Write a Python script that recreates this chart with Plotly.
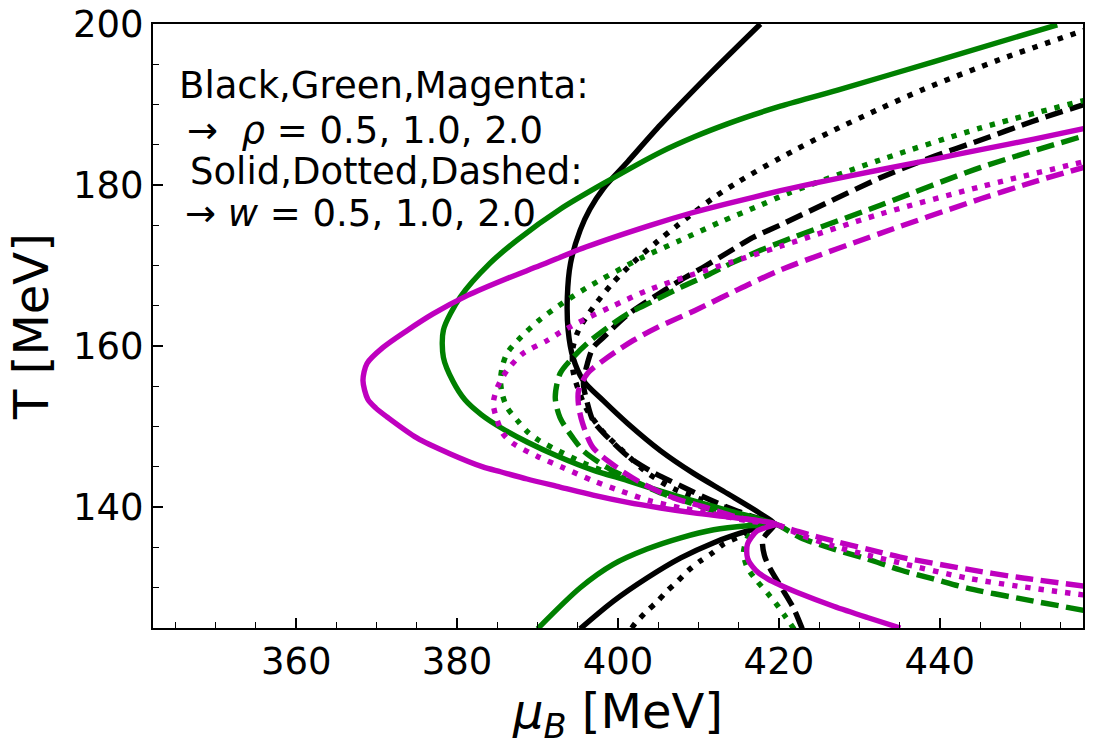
import plotly.graph_objects as go

# black: rho = 0.5 ; solid / dotted / dashed: w = 0.5 / 1.0 / 2.0
k_solid_mu = [395.3, 399.4, 403.6, 407.8, 411.9, 416.1, 419.4, 417.7, 413.6, 409.4, 405.3, 401.2, 398.2,
              395.7, 394.4, 393.8, 393.7, 394.1, 395.3, 396.5, 398.2, 401.2, 405.3, 411.5, 417.7]
k_solid_T = [124.9, 128.3, 131.2, 133.7, 135.6, 137.05, 137.9, 139.2, 141.7, 144.2, 147.0, 150.4, 153.2,
             155.7, 158.6, 162.0, 166.1, 170.3, 174.4, 177.0, 179.6, 182.9, 187.5, 193.9, 200.0]

k_dot_mu = [401.7, 402.15, 403.6, 404.9, 406.1, 407.4, 408.7, 410.2, 411.7, 413.1, 415.2, 416.8, 419.4,
            416.8, 413.6, 410.2, 406.9, 403.6, 400.7, 398.2, 396.2, 395.1, 394.4, 394.4, 395.1, 396.9,
            399.4, 401.9, 404.9, 407.4, 411.85, 414.95, 420.2, 426.4, 432.6, 438.0, 447.5, 457.9]
k_dot_T = [125.0, 125.6, 127.1, 128.3, 129.6, 130.8, 132.1, 133.3, 134.3, 135.4, 136.4, 137.3, 137.9,
           138.7, 139.9, 141.0, 142.3, 144.3, 146.9, 149.3, 152.0, 154.5, 157.0, 159.8, 162.0, 164.8,
           167.9, 170.4, 173.0, 175.0, 178.4, 180.4, 183.4, 186.6, 189.5, 191.9, 195.6, 199.2]

k_dash_mu = [422.9, 421.8, 420.2, 418.9, 418.2, 418.0, 419.4, 416.8, 413.6, 410.6, 407.8, 404.4, 401.5,
             398.7, 396.9, 396.2, 395.7, 396.2, 396.9, 398.2, 401.2, 404.4, 407.8, 410.6, 413.6, 416.8,
             420.4, 426.4, 432.6, 438.8, 445.1, 451.5, 457.9]
k_dash_T = [124.9, 127.5, 130.2, 132.4, 134.0, 136.0, 137.9, 138.8, 140.0, 141.3, 142.65, 144.3, 146.1,
            148.7, 150.75, 152.9, 155.4, 157.85, 159.8, 161.1, 163.9, 166.06, 168.2, 169.8, 171.6, 173.5,
            175.15, 178.0, 180.9, 183.4, 185.6, 187.9, 190.0]

# green: rho = 1.0
g_solid_mu = [390.0, 395.3, 399.4, 403.6, 407.8, 411.9, 416.1, 419.4, 417.7, 413.6, 409.4, 405.3, 401.2,
              396.9, 392.8, 388.7, 385.4, 383.0, 381.0, 379.5, 378.3, 378.3, 380.4, 384.1, 387.5, 392.8,
              398.2, 405.3, 409.5, 413.6, 416.9, 420.2, 427.3, 439.2, 454.6]
g_solid_T = [124.9, 130.0, 132.9, 134.8, 136.2, 137.2, 137.7, 137.9, 138.5, 139.6, 140.8, 142.0, 143.3,
             144.6, 146.2, 148.1, 149.9, 151.5, 153.3, 155.6, 158.6, 162.0, 166.1, 170.3, 173.2, 177.0,
             180.2, 184.1, 186.0, 187.6, 188.75, 189.8, 191.8, 195.3, 199.9]

g_dot_mu = [421.9, 420.6, 419.6, 418.6, 417.3, 416.1, 415.6, 416.1, 417.3, 419.4, 417.7, 414.3, 410.2,
            406.1, 402.8, 399.0, 395.7, 392.8, 390.0, 388.7, 387.5, 386.2, 385.6, 385.4, 385.6, 386.2,
            387.9, 390.3, 393.2, 396.2, 402.8, 407.8, 412.7, 417.7, 421.2, 432.6, 445.1, 457.9]
g_dot_T = [124.85, 126.7, 128.1, 129.3, 130.8, 132.45, 134.3, 136.2, 137.4, 137.9, 138.3, 139.2, 140.4,
           141.66, 142.9, 144.2, 145.5, 146.9, 148.4, 149.4, 150.75, 152.4, 154.1, 155.7, 157.35, 159.1,
           161.1, 163.3, 165.4, 167.3, 170.9, 173.16, 175.4, 177.5, 179.0, 183.13, 187.1, 190.5]

g_dash_mu = [457.9, 449.7, 443.4, 439.2, 435.1, 431.0, 426.8, 422.7, 419.6, 416.8, 413.1, 409.4, 405.6,
             401.9, 398.7, 395.7, 394.4, 392.8, 392.2, 392.8, 394.4, 396.6, 399.4, 401.2, 404.4, 407.8,
             411.1, 414.3, 417.7, 421.5, 432.6, 445.1, 457.9]
g_dash_T = [127.2, 128.7, 129.95, 131.1, 132.2, 133.56, 134.8, 136.2, 137.9, 138.3, 139.2, 140.4, 141.66,
            143.3, 144.9, 147.0, 148.6, 151.1, 153.6, 156.6, 158.6, 160.7, 162.8, 164.0, 165.6, 167.3,
            168.8, 170.4, 171.9, 173.4, 177.5, 182.2, 186.1]

# magenta: rho = 2.0
m_solid_mu = [457.9, 451.7, 445.1, 439.2, 432.6, 425.2, 420.2, 413.6, 409.0, 404.0, 396.0, 390.3, 386.2,
              381.3, 377.0, 373.8, 370.8, 368.8, 368.3, 368.9, 369.9, 371.3, 375.0, 379.1, 383.2, 385.4,
              388.7, 392.8, 396.9, 401.2, 405.3, 409.4, 413.6, 417.7, 419.6, 417.3, 416.1, 416.1, 417.1,
              418.6, 420.2, 422.3, 426.8, 431.0, 435.1]
m_solid_T = [187.0, 185.7, 184.4, 183.2, 181.9, 180.4, 179.3, 177.7, 176.5, 175.0, 172.3, 170.0, 168.4,
             166.3, 164.0, 161.95, 159.84, 157.85, 155.73, 153.4, 152.3, 151.2, 148.6, 146.64, 145.0, 144.4,
             143.5, 142.5, 141.5, 140.6, 139.9, 139.3, 138.8, 138.3, 137.9, 137.05, 135.43, 133.7, 132.2,
             131.1, 130.3, 129.4, 127.7, 126.3, 125.0]

m_dot_mu = [457.9, 449.7, 443.4, 435.1, 431.0, 426.8, 422.7, 419.6, 416.1, 411.85, 407.8, 404.0, 400.3,
            396.9, 393.2, 390.0, 387.0, 385.7, 385.0, 384.5, 385.0, 386.2, 388.2, 391.2, 392.8, 396.2,
            399.4, 403.6, 409.0, 414.0, 420.2, 432.6, 445.1, 457.9]
m_dot_T = [129.1, 130.2, 131.2, 133.07, 134.06, 135.18, 136.55, 137.9, 138.3, 139.17, 139.92, 140.79, 142.03,
           143.28, 144.9, 146.3, 147.9, 149.13, 150.75, 152.86, 154.86, 156.98, 159.1, 160.7, 161.7, 163.5,
           165.0, 166.9, 168.8, 170.4, 172.4, 176.4, 179.8, 182.9]

m_dash_mu = [457.9, 449.7, 443.4, 435.1, 431.0, 426.8, 422.7, 418.9, 415.2, 411.1, 406.9, 403.1, 399.9,
             396.9, 395.6, 395.1, 395.1, 396.2, 398.7, 401.9, 404.9, 409.5, 416.1, 420.8, 432.6, 445.1,
             451.7, 457.9]
m_dash_T = [130.2, 131.3, 132.3, 133.8, 134.8, 135.8, 136.9, 138.04, 138.67, 139.92, 141.16, 142.9, 144.9,
            147.4, 150.4, 152.6, 154.49, 156.6, 158.6, 160.71, 162.33, 164.4, 167.6, 169.7, 174.0, 178.3,
            180.4, 182.2]

BLACK, GREEN, MAGENTA = "#000000", "#008000", "#bf00bf"
DOT, DASH = "5.4px,8px", "18px,7.5px"

curves = [
    (k_solid_mu, k_solid_T, BLACK, "solid"),
    (k_dot_mu, k_dot_T, BLACK, DOT),
    (k_dash_mu, k_dash_T, BLACK, DASH),
    (g_solid_mu, g_solid_T, GREEN, "solid"),
    (g_dot_mu, g_dot_T, GREEN, DOT),
    (g_dash_mu, g_dash_T, GREEN, DASH),
    (m_solid_mu, m_solid_T, MAGENTA, "solid"),
    (m_dot_mu, m_dot_T, MAGENTA, DOT),
    (m_dash_mu, m_dash_T, MAGENTA, DASH),
]

fig = go.Figure()
for mu, T, col, dash in curves:
    fig.add_trace(go.Scatter(x=mu, y=T, mode="lines",
                             line=dict(color=col, width=5.4, dash=dash, shape="spline", smoothing=0.8),
                             showlegend=False))

font = "DejaVu Sans"
notes = [
    ("Black,Green,Magenta:", 0.0258, 0.899),
    ("\u2192\u00a0\u00a0<i>\u03c1</i> = 0.5, 1.0, 2.0", 0.0344, 0.8245),
    ("Solid,Dotted,Dashed:", 0.0376, 0.755),
    ("\u2192 <i>w</i> = 0.5, 1.0, 2.0", 0.0323, 0.687),
]
for txt, x, y in notes:
    fig.add_annotation(text=txt, x=x, y=y, xref="paper", yref="paper", xanchor="left", yanchor="middle",
                       showarrow=False, font=dict(family=font, size=37, color="black"))

axis_style = dict(showgrid=False, zeroline=False, showline=True, mirror=True, linecolor="black", linewidth=2,
                  ticks="inside", ticklen=10, tickwidth=1.5, tickcolor="black", automargin=False,
                  tickfont=dict(family=font, size=37, color="black"),
                  minor=dict(ticks="inside", ticklen=6, tickwidth=1.2, tickcolor="black", dtick=5))

fig.update_xaxes(range=[342.2, 457.8], dtick=20, tick0=0,
                 title=dict(text="<i>\u03bc</i><sub><i>B</i></sub> [MeV]", standoff=8,
                            font=dict(family=font, size=48, color="black")),
                 **axis_style)
fig.update_yaxes(range=[125, 200], dtick=20, tick0=0,
                 title=dict(text="T [MeV]", standoff=9, font=dict(family=font, size=48, color="black")),
                 **axis_style)

fig.update_layout(width=1093, height=749, plot_bgcolor="white", paper_bgcolor="white",
                  margin=dict(l=153, r=10, t=24, b=121), font=dict(family=font))

fig.write_html("out.html", config={"displayModeBar": False},
               post_script="document.body.style.margin = '0';")
